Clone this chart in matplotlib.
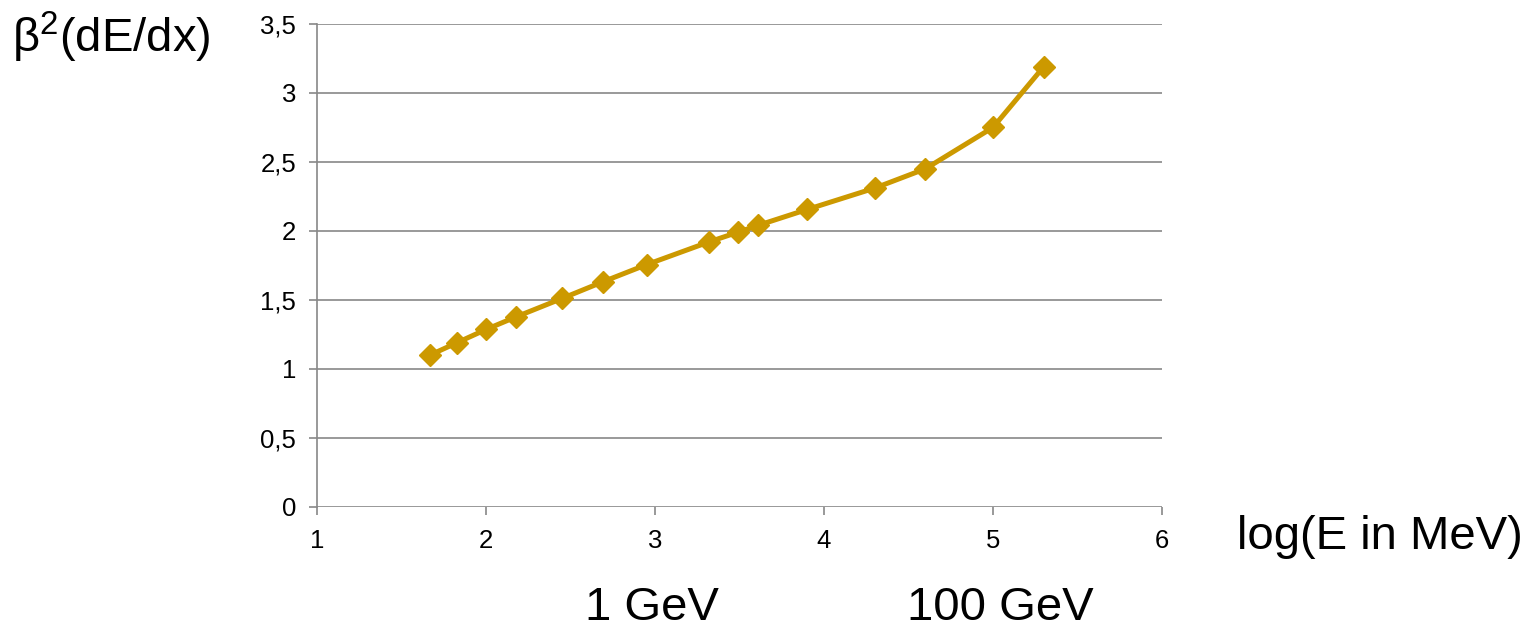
import matplotlib.pyplot as plt
import numpy as np

plt.rcParams['font.family'] = ['Liberation Sans', 'DejaVu Sans']
plt.rcParams['mathtext.fontset'] = 'custom'
plt.rcParams['mathtext.rm'] = 'Liberation Sans'

# log10(E / MeV) and beta^2 * dE/dx
log_e = [1.67, 1.83, 2.00, 2.175, 2.45, 2.69, 2.95, 3.32, 3.49, 3.61, 3.90, 4.30, 4.60, 5.00, 5.30]
dedx = [1.10, 1.19, 1.285, 1.375, 1.51, 1.63, 1.755, 1.92, 1.99, 2.04, 2.155, 2.31, 2.45, 2.75, 3.19]

y_ticks = [0, 0.5, 1, 1.5, 2, 2.5, 3, 3.5]
y_tick_labels = ['0', '0,5', '1', '1,5', '2', '2,5', '3', '3,5']
x_ticks = [1, 2, 3, 4, 5, 6]

grey = '#888888'
gold = '#CC9900'

fig = plt.figure(figsize=(15.38, 6.31), dpi=100)
ax = fig.add_axes([317 / 1538, 1 - 506.7 / 631, (1162 - 317) / 1538, (506.7 - 24) / 631])

ax.plot(log_e, dedx, color=gold, lw=3.6, marker='D', ms=11, mec=gold, mfc=gold, zorder=3)

ax.set_xlim(1, 6)
ax.set_ylim(0, 3.5)
ax.set_yticks(y_ticks)
ax.set_yticklabels(y_tick_labels)
ax.set_xticks(x_ticks)
ax.grid(axis='y', color=grey, lw=1.2)
ax.set_axisbelow(True)

for s in ['top', 'right', 'bottom']:
    ax.spines[s].set_visible(False)
ax.spines['left'].set_color(grey)
ax.spines['left'].set_linewidth(1.2)
ax.tick_params(axis='both', colors=grey, labelcolor='black', labelsize=18.5,
               length=6, width=1.2, direction='out')
ax.tick_params(axis='y', pad=9)
ax.tick_params(axis='x', pad=10)

fig.text(12 / 1538, 1 - 37 / 631, r'β$^{\mathrm{2}}$(dE/dx)', fontsize=34, ha='left', va='center')
fig.text(1237 / 1538, 1 - 537 / 631, 'log(E in MeV)', fontsize=34, ha='left', va='center')
fig.text(652 / 1538, 1 - 608 / 631, '1 GeV', fontsize=34, ha='center', va='center')
fig.text(1000 / 1538, 1 - 608 / 631, '100 GeV', fontsize=34, ha='center', va='center')

fig.savefig('out.png', dpi=100, facecolor='white')
